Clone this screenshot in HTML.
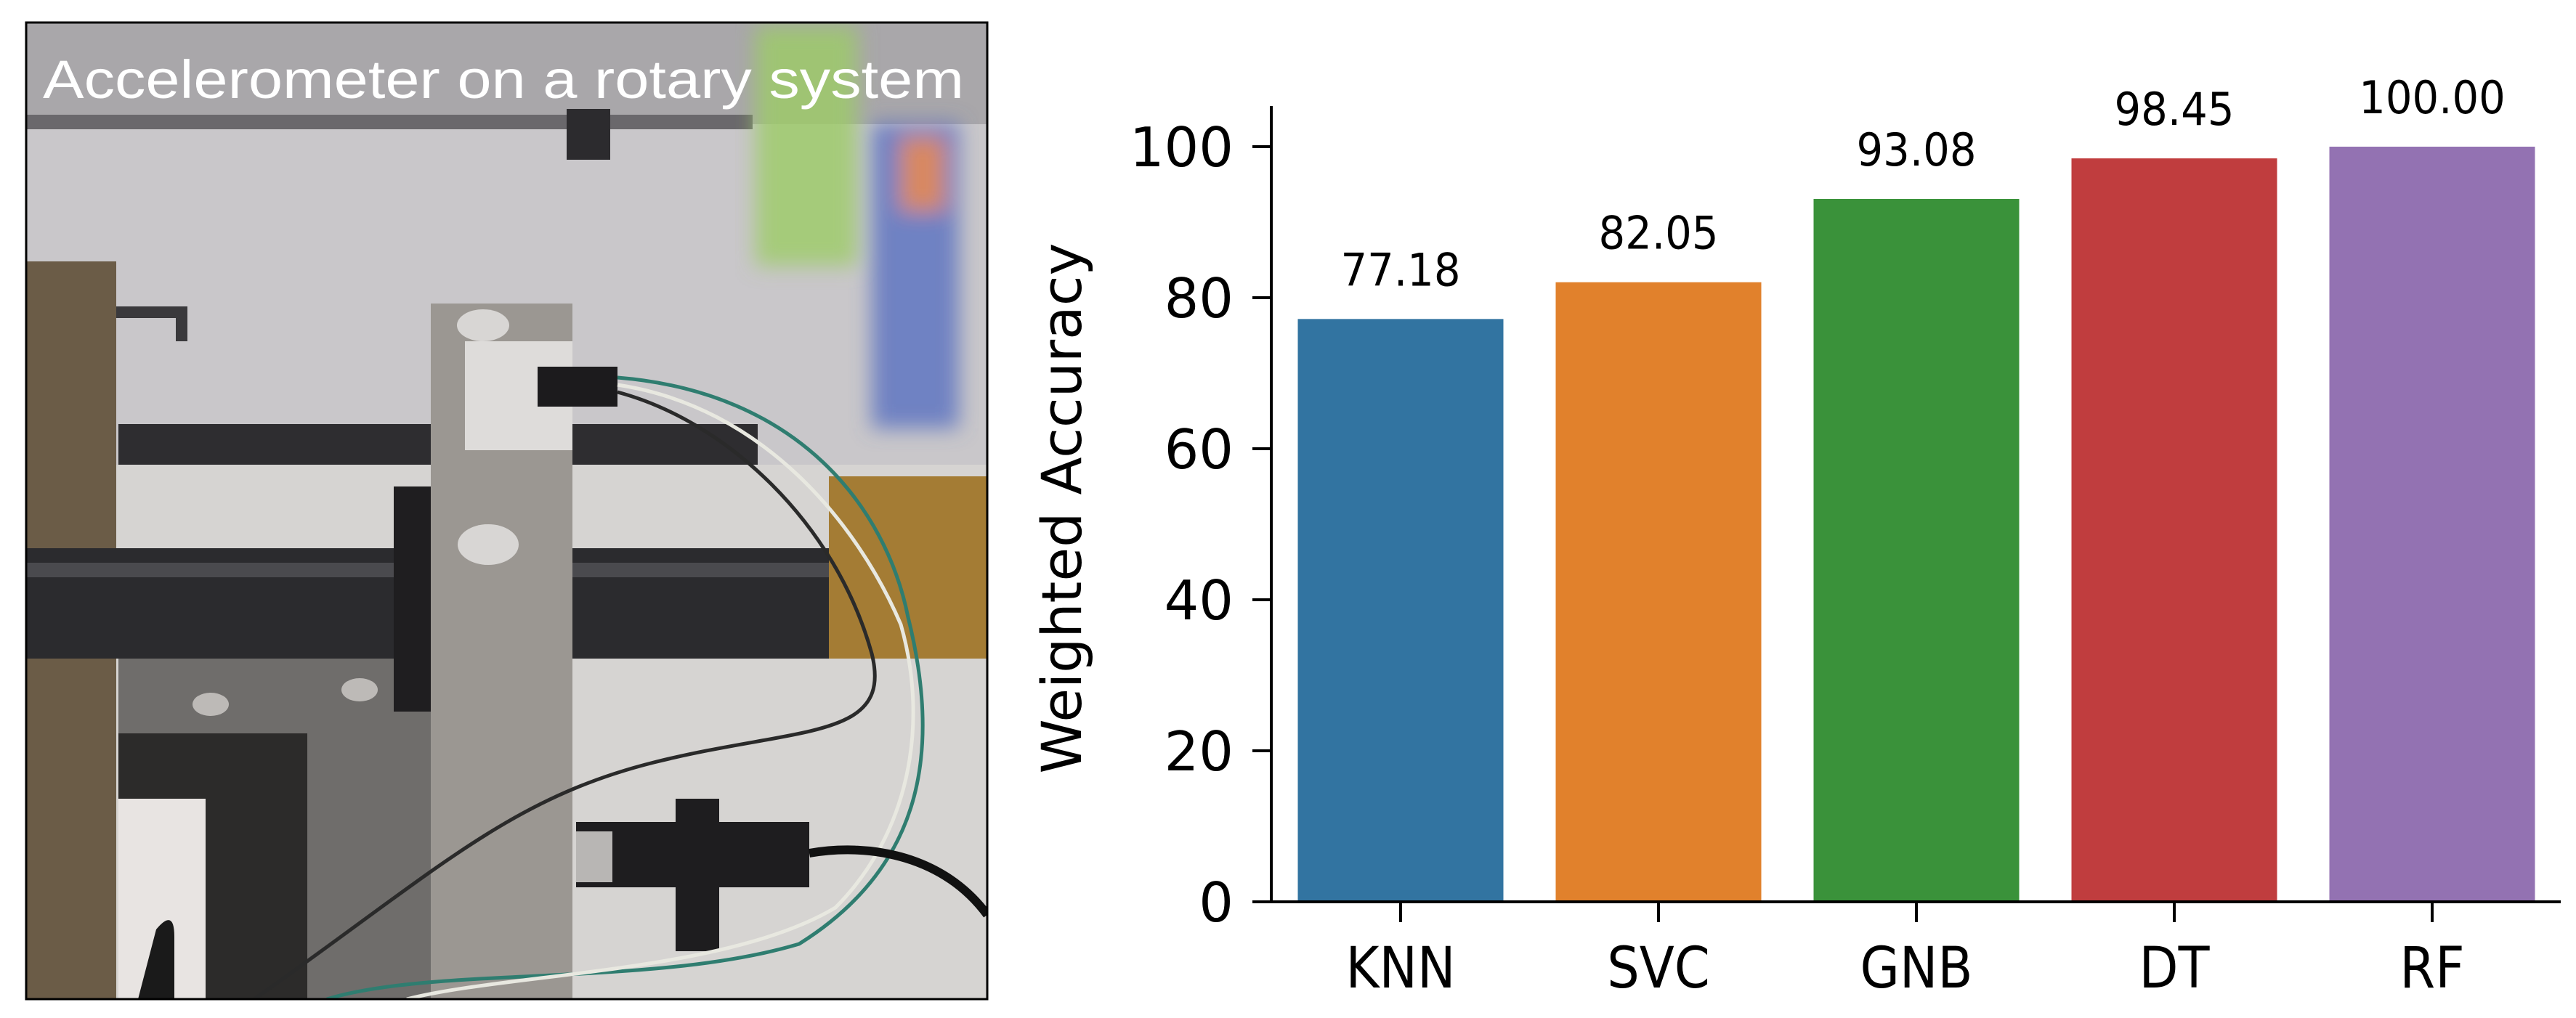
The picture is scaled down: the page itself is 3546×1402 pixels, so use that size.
<!DOCTYPE html>
<html><head><meta charset="utf-8"><style>
html,body{margin:0;padding:0;background:#fff;}
svg{display:block;}
text{font-family:"DejaVu Sans","Liberation Sans",sans-serif;fill:#000;}
</style></head><body>
<svg width="3546" height="1402" viewBox="0 0 3546 1402" xmlns="http://www.w3.org/2000/svg">
<defs>
<clipPath id="pc"><rect x="36" y="31" width="1323" height="1345"/></clipPath>
<filter id="bl"><feGaussianBlur stdDeviation="14"/></filter>
</defs>
<g clip-path="url(#pc)">
 <rect x="36" y="31" width="1323" height="1345" fill="#c9c7ca"/>
 <rect x="36" y="31" width="1323" height="140" fill="#a9a7aa"/>
 <rect x="36" y="158" width="1000" height="20" fill="#6a686c"/>
 <rect x="780" y="150" width="60" height="70" fill="#2c2b2e"/>
 <g filter="url(#bl)">
  <rect x="1040" y="36" width="140" height="330" fill="#9ccc66" opacity="0.8"/>
  <rect x="1200" y="170" width="120" height="420" fill="#5870c0" opacity="0.8"/>
  <rect x="1240" y="190" width="60" height="100" fill="#d88860"/>
 </g>
 <path d="M95 430 L250 430 L250 470" stroke="#3a393c" stroke-width="16" fill="none"/>
 <rect x="163" y="584" width="880" height="64" fill="#2e2d30"/>
 <rect x="140" y="640" width="1219" height="736" fill="#d6d4d2"/>
 <rect x="163" y="900" width="453" height="476" fill="#6f6d6b"/>
 <rect x="163" y="1010" width="260" height="366" fill="#2c2b2a"/>
 <rect x="163" y="1100" width="120" height="276" fill="#e8e4e2"/>
 <ellipse cx="290" cy="970" rx="25" ry="16" fill="#bdbab7"/>
 <ellipse cx="495" cy="950" rx="25" ry="16" fill="#bdbab7"/>
 <rect x="36" y="360" width="124" height="1016" fill="#6b5c47"/>
 <rect x="36" y="755" width="1210" height="152" fill="#2b2b2e"/>
 <rect x="36" y="775" width="1210" height="20" fill="#4a4a4e"/>
 <rect x="1141" y="656" width="218" height="251" fill="#a47c34"/>
 <rect x="542" y="670" width="55" height="310" fill="#1f1e20"/>
 <rect x="593" y="418" width="195" height="958" fill="#9b9792"/>
 <rect x="640" y="470" width="148" height="150" fill="#dedcda"/>
 <ellipse cx="665" cy="448" rx="36" ry="22" fill="#d8d6d4"/>
 <ellipse cx="672" cy="750" rx="42" ry="28" fill="#d8d6d4"/>
 <rect x="740" y="505" width="110" height="55" fill="#1c1b1d"/>
 <rect x="793" y="1132" width="321" height="90" fill="#1e1d1f"/>
 <rect x="793" y="1145" width="50" height="70" fill="#b8b6b4"/>
 <rect x="930" y="1100" width="60" height="210" fill="#1e1d1f"/>
 <path d="M240 1376 L240 1290 Q240 1250 215 1280 L190 1376 Z" fill="#1a1a1a"/>
 <path d="M850 520 C1100 540 1220 700 1250 850 C1300 1050 1260 1200 1100 1300 C900 1360 600 1330 450 1376" stroke="#2f7d70" stroke-width="5" fill="none"/>
 <path d="M850 530 C1050 560 1180 720 1240 860 C1280 1000 1250 1150 1150 1250 C1000 1340 700 1340 560 1376" stroke="#e8e8e0" stroke-width="5" fill="none"/>
 <path d="M850 540 C1000 580 1150 720 1200 900 C1230 1020 1100 1000 900 1050 C700 1100 600 1200 350 1376" stroke="#2a2a2a" stroke-width="5" fill="none"/>
 <path d="M1114 1175 C1200 1160 1300 1180 1359 1260" stroke="#111" stroke-width="12" fill="none"/>
 <text x="59" y="135" font-size="74" textLength="1268" lengthAdjust="spacingAndGlyphs" style="font-family:'Liberation Sans',sans-serif;fill:#fff">Accelerometer on a rotary system</text>
</g>
<rect x="36" y="31" width="1323" height="1345" fill="none" stroke="#000" stroke-width="3"/>
<g id="chart"></g>
</svg>
<script>
const categories = ["KNN","SVC","GNB","DT","RF"];
const values = [77.18, 82.05, 93.08, 98.45, 100.00];
const valueLabels = ["77.18","82.05","93.08","98.45","100.00"];
const colors = ["#3274a1","#e1812c","#3a923a","#c03d3e","#9372b2"];
const yTicks = [0,20,40,60,80,100];

const NS="http://www.w3.org/2000/svg";
const g=document.getElementById('chart');
const X0=1750, X1=3525, Y0=1242, Y100=202, firstC=1928, step=355, bw=283;
function y(v){return Y0+(Y100-Y0)*v/100;}
function xc(i){return firstC+i*step;}
function mk(t,a){const e=document.createElementNS(NS,t);for(const k in a)e.setAttribute(k,a[k]);g.appendChild(e);return e;}

categories.forEach((c,i)=>{
  const r=mk('rect',{x:xc(i)-bw/2,y:y(values[i]),width:bw,height:Y0-y(values[i]),fill:colors[i]});
  
  
  const t=mk('text',{transform:`translate(${xc(i)},${y(values[i])-46}) scale(0.93,1)`,'font-size':62,'text-anchor':'middle'});
  t.textContent=valueLabels[i];
  
  
  const tk=mk('line',{x1:xc(i),x2:xc(i),y1:Y0,y2:Y0+28,stroke:'#000','stroke-width':4});
  
  
  const l=mk('text',{transform:`translate(${xc(i)},1360) scale(0.9,1)`,'font-size':78,'text-anchor':'middle'});
  l.textContent=c;
  
  
});
yTicks.forEach(v=>{
  const tk=mk('line',{x1:X0-26,x2:X0,y1:y(v),y2:y(v),stroke:'#000','stroke-width':4});
  
  
  const l=mk('text',{x:1698,y:y(v)+27,'font-size':75,'text-anchor':'end'});
  l.textContent=String(v);
  
  
});
const ya=mk('line',{x1:X0,x2:X0,y1:146,y2:Y0,stroke:'#000','stroke-width':4});


const xa=mk('line',{x1:X0-2,x2:X1,y1:Y0,y2:Y0,stroke:'#000','stroke-width':4});


const yt=mk('text',{transform:'translate(1488,700) rotate(-90)','font-size':76,'text-anchor':'middle'});
yt.textContent='Weighted Accuracy';


</script>
</body></html>
